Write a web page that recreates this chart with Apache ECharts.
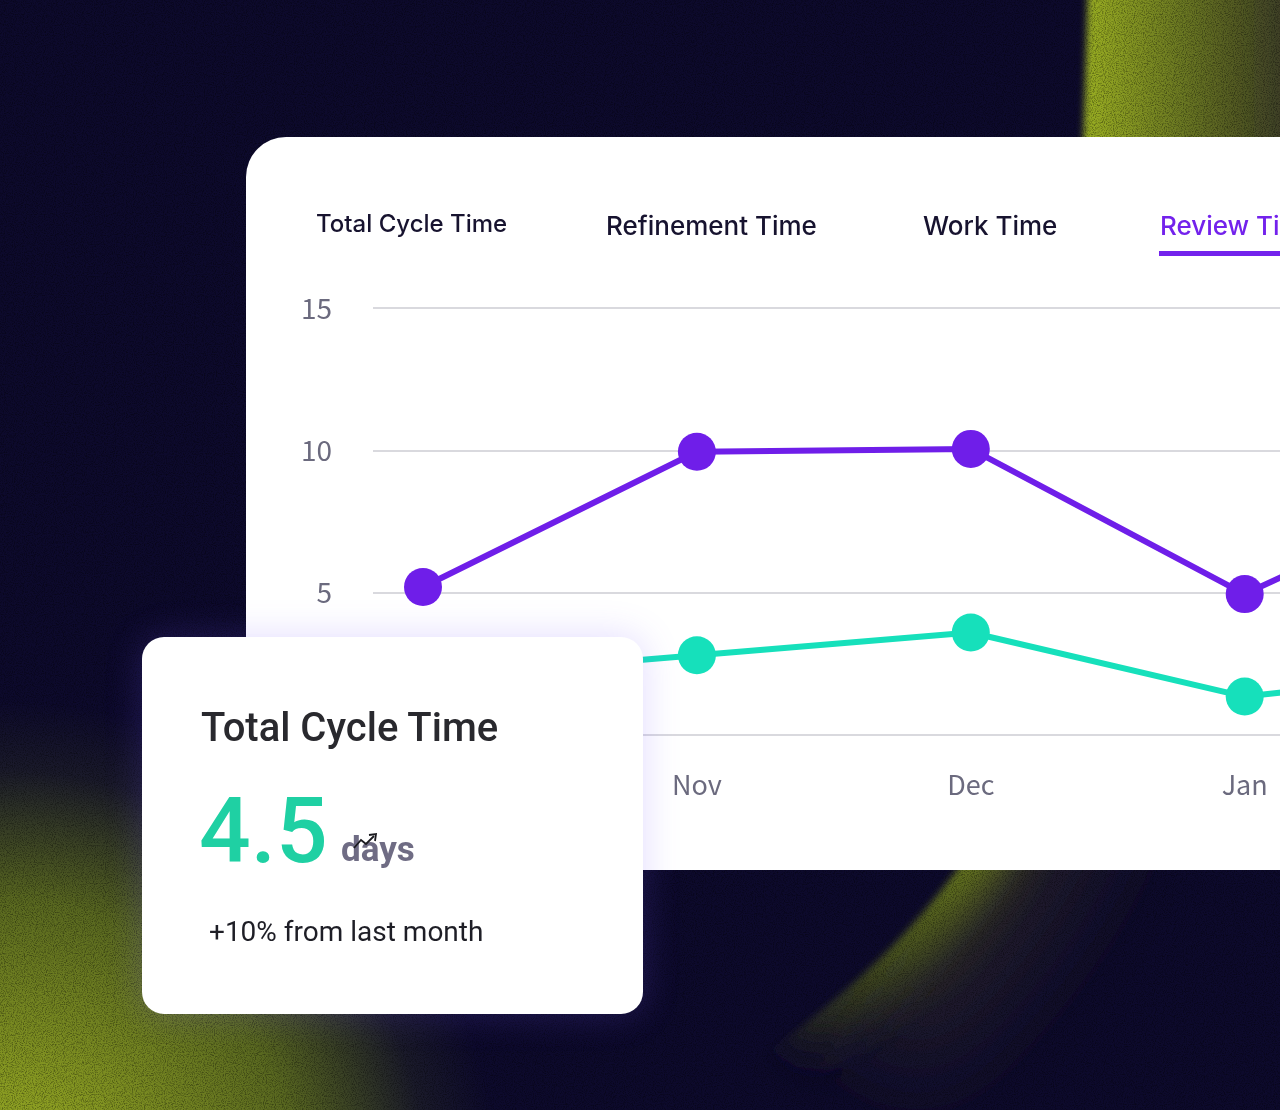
<!DOCTYPE html>
<html>
<head>
<meta charset="utf-8" />
<title>Review Time</title>
<script src="https://cdn.jsdelivr.net/npm/echarts@6.0.0/dist/echarts.min.js"></script>
<style>
  html, body { margin: 0; padding: 0; width: 1280px; height: 1110px; overflow: hidden; background: #0d0a2c; }
  #page { position: relative; width: 1280px; height: 1110px; overflow: hidden; }
  #bg { position: absolute; left: 0; top: 0; }
  .card { position: absolute; background: #fff; }
  #mainCard { left: 246px; top: 137px; width: 1300px; height: 733px; border-radius: 40px 0 0 40px; }
  #chart { position: absolute; left: 0; top: 0; width: 1300px; height: 733px; }
  #tabs { position: absolute; left: 0; top: 0; }
  #statCard { left: 142px; top: 637px; width: 501px; height: 377px; border-radius: 22px;
              box-shadow: 0 0 36px 2px rgba(120, 90, 255, 0.2); }
</style>
</head>
<body>
<div id="page">
  <svg id="bg" width="1280" height="1110" viewBox="0 0 1280 1110">
    <defs>
      <linearGradient id="gTop" gradientUnits="userSpaceOnUse" x1="1080" y1="0" x2="1290" y2="0">
        <stop offset="0" stop-color="#9cb125" />
        <stop offset="0.45" stop-color="#6e7c21" />
        <stop offset="1" stop-color="#3a3b26" />
      </linearGradient>
      <linearGradient id="gArc" gradientUnits="userSpaceOnUse" x1="0" y1="860" x2="0" y2="1045">
        <stop offset="0" stop-color="#6c7d1f" />
        <stop offset="0.5" stop-color="#4a561e" />
        <stop offset="1" stop-color="#1a1826" />
      </linearGradient>
      <radialGradient id="gLeft" gradientUnits="userSpaceOnUse" cx="0" cy="1200" r="500">
        <stop offset="0" stop-color="#9ab026" />
        <stop offset="0.22" stop-color="#8a9c22" />
        <stop offset="0.6" stop-color="#596820" />
        <stop offset="0.86" stop-color="#1a1a2a" />
        <stop offset="1" stop-color="#0d0a2c" />
      </radialGradient>
      <clipPath id="outside">
        <path d="M1088,-20 C1084,150 1078,330 1060,520 C1043,700 1010,800 957,870 C905,940 850,990 790,1035 C740,1072 700,1100 660,1150 L1400,1170 L1400,-20 Z" />
      </clipPath>
      <filter id="soft" filterUnits="userSpaceOnUse" x="-300" y="-300" width="1900" height="1800">
        <feGaussianBlur stdDeviation="3.5" />
      </filter>
      <filter id="glow" filterUnits="userSpaceOnUse" x="-300" y="-300" width="1900" height="1800">
        <feGaussianBlur stdDeviation="22" />
      </filter>
      <filter id="haze" filterUnits="userSpaceOnUse" x="-300" y="-300" width="1900" height="1800">
        <feGaussianBlur stdDeviation="50" />
      </filter>
      <filter id="grain" filterUnits="userSpaceOnUse" x="0" y="0" width="1280" height="1110">
        <feTurbulence type="fractalNoise" baseFrequency="0.9" numOctaves="2" seed="3" result="n" />
        <feColorMatrix in="n" type="matrix" values="0 0 0 0 0  0 0 0 0 0  0 0 0 0 0  3 0 0 0 -1.3" />
      </filter>
    </defs>
    <rect width="1280" height="1110" fill="#0d0a2c" />
    <rect x="0" y="600" width="720" height="510" fill="url(#gLeft)" />
    <g filter="url(#soft)">
      <g clip-path="url(#outside)">
        <rect x="1000" y="-50" width="330" height="420" fill="url(#gTop)" />
        <path d="M1062,480 C1045,690 1010,800 957,870 C920,920 880,960 840,995"
              fill="none" stroke="#3b3a2a" stroke-width="220" stroke-opacity="0.5" filter="url(#haze)" />
        <path d="M1062,480 C1045,690 1010,800 957,870 C905,940 850,990 790,1035"
              fill="none" stroke="url(#gArc)" stroke-width="70" filter="url(#glow)" />
      </g>
    </g>
    <rect width="1280" height="1110" filter="url(#grain)" opacity="0.35" />
  </svg>

  <div id="mainCard" class="card">
    <div id="chart"></div>
    <svg id="tabs" width="1300" height="140"></svg>
  </div>

  <div id="statCard" class="card">
    <svg width="501" height="377">
      <text x="59" y="104" font-family="Roboto" font-size="40" font-weight="500" fill="#29292e">Total Cycle Time</text>
      <text id="statValue" x="57" y="225" font-family="Roboto" font-size="91" font-weight="500" fill="#1fd0a3"></text>
      <text id="statUnit" x="199" y="224" font-family="Roboto" font-size="35" font-weight="700" fill="#6f6c84"></text>
      <polyline points="212,211 219,203 224,207 232,199" fill="none" stroke="#1a1a1f" stroke-width="1.8" />
      <polyline points="227,198 234,197 233,204" fill="none" stroke="#1a1a1f" stroke-width="1.8" />
      <text id="statNote" x="67" y="304" font-family="Roboto" font-size="28" font-weight="400" fill="#1e1e26"></text>
    </svg>
  </div>
</div>

<script type="text/javascript">
  // data
  var months = ['Oct', 'Nov', 'Dec', 'Jan', 'Feb'];
  var reviewTime = [5.2, 9.95, 10.05, 4.95, 9.4];
  var workTime = [2.0, 2.8, 3.6, 1.35, 2.4];
  var yTicks = [0, 5, 10, 15];
  var tabNames = ['Total Cycle Time', 'Refinement Time', 'Work Time', 'Review Time'];
  var activeTab = 3;
  var statValue = '4.5';
  var statUnit = 'days';
  var statNote = '+10% from last month';

  // tab row
  var tabX = [70, 360, 677, 914];
  var svgNS = 'http://www.w3.org/2000/svg';
  var tabs = document.getElementById('tabs');
  for (var i = 0; i < tabNames.length; i++) {
    var t = document.createElementNS(svgNS, 'text');
    t.setAttribute('x', tabX[i]);
    t.setAttribute('y', i == 0 ? 95 : 98);
    t.setAttribute('font-family', 'Inter');
    t.setAttribute('font-size', i == 0 ? 24 : 26);
    t.setAttribute('font-weight', 500);
    t.setAttribute('fill', i == activeTab ? '#7322ec' : '#17132f');
    t.textContent = tabNames[i];
    tabs.appendChild(t);
    if (i == activeTab) {
      var u = document.createElementNS(svgNS, 'rect');
      u.setAttribute('x', tabX[i] - 1);
      u.setAttribute('y', 114);
      u.setAttribute('width', 160);
      u.setAttribute('height', 5);
      u.setAttribute('fill', '#7322ec');
      tabs.appendChild(u);
    }
  }

  document.getElementById('statValue').textContent = statValue;
  document.getElementById('statUnit').textContent = statUnit;
  document.getElementById('statNote').textContent = statNote;

  // the chart: x is a value axis so the grid lines can start left of the first point
  var step = 273.9;              // px per month
  var gridLeft = 127;
  var chartWidth = 1300;
  var xMin = -50 / step;
  var xMax = xMin + (chartWidth - gridLeft) / step;

  var myChart = echarts.init(document.getElementById('chart'));
  var option = {
    animation: false,
    grid: { left: gridLeft, right: 0, top: 171, bottom: 135 },
    xAxis: {
      type: 'value',
      min: xMin,
      max: xMax,
      splitLine: { show: false },
      axisLine: { show: false },
      axisTick: { show: false },
      axisLabel: {
        customValues: months.map(function (m, i) { return i; }),
        formatter: function (v) { return months[Math.round(v)]; },
        margin: 36,
        fontFamily: 'Noto Sans CJK SC',
        fontSize: 27,
        color: '#6b6a7e'
      }
    },
    yAxis: {
      type: 'value',
      min: yTicks[0],
      max: yTicks[yTicks.length - 1],
      interval: yTicks[1] - yTicks[0],
      axisLine: { show: false },
      axisTick: { show: false },
      splitLine: { lineStyle: { color: '#d9d9de', width: 2 } },
      axisLabel: {
        margin: 41,
        fontFamily: 'Noto Sans CJK SC',
        fontSize: 28,
        color: '#6b6a7e',
        padding: [14, 0, 0, 0]
      }
    },
    series: [
      {
        name: 'Review Time',
        type: 'line',
        data: reviewTime.map(function (v, i) { return [i, v]; }),
        symbol: 'circle',
        symbolSize: 38,
        lineStyle: { width: 6, color: '#6f1ee9' },
        itemStyle: { color: '#6f1ee9' },
        z: 3
      },
      {
        name: 'Work Time',
        type: 'line',
        data: workTime.map(function (v, i) { return [i, v]; }),
        symbol: 'circle',
        symbolSize: 38,
        lineStyle: { width: 6, color: '#16e0bb' },
        itemStyle: { color: '#16e0bb' },
        z: 2
      }
    ]
  };
  myChart.setOption(option);
</script>
</body>
</html>
